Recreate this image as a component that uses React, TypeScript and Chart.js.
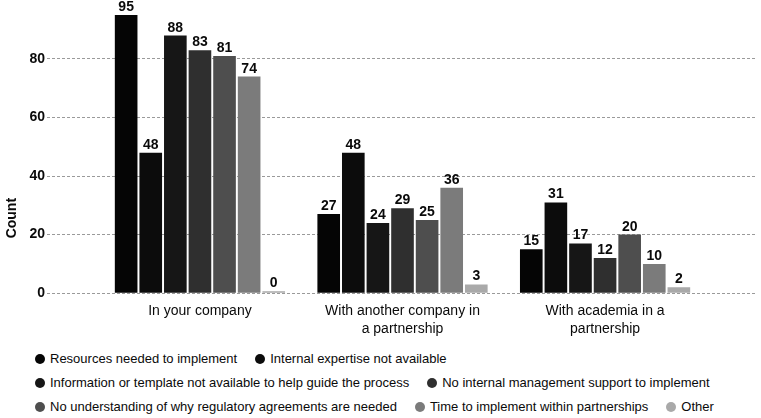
import React, { useEffect, useRef } from "react";
import { Chart, registerables } from "chart.js";

Chart.register(...registerables);

const FONT = "'Liberation Sans', Arial, sans-serif";

const categories = [
  ["In your company"],
  ["With another company in", "a partnership"],
  ["With academia in a", "partnership"],
];

const seriesNames = [
  "Resources needed to implement",
  "Internal expertise not available",
  "Information or template not available to help guide the process",
  "No internal management support to implement",
  "No understanding of why regulatory agreements are needed",
  "Time to implement within partnerships",
  "Other",
];

const seriesColors = [
  "#050505",
  "#0c0c0c",
  "#161616",
  "#2f2f2f",
  "#4e4e4e",
  "#7b7b7b",
  "#a9a9a9",
];

// one value per category: company, another company, academia
const resources = [95, 27, 15];
const expertise = [48, 48, 31];
const information = [88, 24, 17];
const management = [83, 29, 12];
const understanding = [81, 25, 20];
const timeToImplement = [74, 36, 10];
const other = [0, 3, 2];

const seriesValues = [
  resources,
  expertise,
  information,
  management,
  understanding,
  timeToImplement,
  other,
];

const yMax = 100;
const yStep = 20;

const valueLabels = {
  id: "valueLabels",
  afterDatasetsDraw(chart: any) {
    const { ctx } = chart;
    ctx.save();
    ctx.font = `bold 14px ${FONT}`;
    ctx.fillStyle = "#0a0a0a";
    ctx.textAlign = "center";
    ctx.textBaseline = "alphabetic";
    chart.data.datasets.forEach((ds: any, i: number) => {
      const meta = chart.getDatasetMeta(i);
      meta.data.forEach((el: any, j: number) => {
        ctx.fillText(String(ds.data[j].y), el.x, el.y - 4);
      });
    });
    ctx.restore();
  },
};

const countTitle = {
  id: "countTitle",
  afterDraw(chart: any) {
    const { ctx, chartArea } = chart;
    ctx.save();
    ctx.translate(12, chartArea.bottom - 75);
    ctx.rotate(-Math.PI / 2);
    ctx.font = `bold 14px ${FONT}`;
    ctx.fillStyle = "#0a0a0a";
    ctx.textAlign = "center";
    ctx.textBaseline = "middle";
    ctx.fillText("Count", 0, 0);
    ctx.restore();
  },
};

export default function App() {
  const canvasRef = useRef<HTMLCanvasElement | null>(null);

  useEffect(() => {
    document.body.style.margin = "0";
    const ctx = canvasRef.current?.getContext("2d");
    if (!ctx) return;

    const chart = new Chart(ctx, {
      type: "bar",
      data: {
        datasets: seriesValues.map((vals, i) => ({
          label: seriesNames[i],
          data: vals.map((v, k) => ({ x: k, y: v })),
          backgroundColor: seriesColors[i],
          borderWidth: 0,
          minBarLength: i === 6 ? 2 : 0,
          barPercentage: 0.92,
          categoryPercentage: 0.85,
        })),
      },
      options: {
        animation: false,
        responsive: false,
        layout: { padding: { top: 0, right: 4, bottom: 0, left: 0 } },
        plugins: {
          legend: { display: false },
          tooltip: { enabled: false },
        },
        scales: {
          x: {
            type: "linear",
            offset: false,
            min: -0.755,
            max: 2.75,
            afterBuildTicks: (scale: any) => {
              scale.ticks = categories.map((_, i) => ({ value: i }));
            },
            grid: { display: false },
            border: { display: false },
            ticks: {
              autoSkip: false,
              maxRotation: 0,
              padding: 1,
              color: "#0a0a0a",
              font: { family: FONT, size: 14, lineHeight: 1.28 },
              callback: (value: any) => categories[value as number],
            },
          },
          y: {
            min: 0,
            max: yMax,
            afterFit: (scale: any) => {
              scale.width = 47;
            },
            grid: { color: "#9a9a9a", lineWidth: 1, drawTicks: false },
            border: { display: false, dash: [3, 2] },
            ticks: {
              stepSize: yStep,
              padding: 2,
              color: "#0a0a0a",
              font: { family: FONT, size: 14, weight: "bold" },
              callback: (value: any) => (value === yMax ? null : String(value)),
            },
          },
        },
      },
      plugins: [valueLabels, countTitle],
    } as any);

    return () => {
      chart.destroy();
    };
  }, []);

  return (
    <div style={{ position: "relative", width: 761, height: 418, overflow: "hidden", background: "#fff" }}>
      <canvas ref={canvasRef} width={761} height={349} style={{ display: "block", marginTop: -10 }} />
      <div
        style={{
          position: "absolute",
          left: 35,
          top: 351,
          width: 720,
          display: "flex",
          flexWrap: "wrap",
          columnGap: 18,
          rowGap: 8,
          fontFamily: FONT,
          fontSize: 13,
          lineHeight: "16px",
          color: "#0a0a0a",
        }}
      >
        {seriesNames.map((name, i) => (
          <div key={name} style={{ display: "flex", alignItems: "center" }}>
            <span
              style={{
                width: 10,
                height: 10,
                borderRadius: "50%",
                background: seriesColors[i],
                marginRight: 5,
                flex: "none",
              }}
            />
            <span style={{ whiteSpace: "nowrap" }}>{name}</span>
          </div>
        ))}
      </div>
    </div>
  );
}
